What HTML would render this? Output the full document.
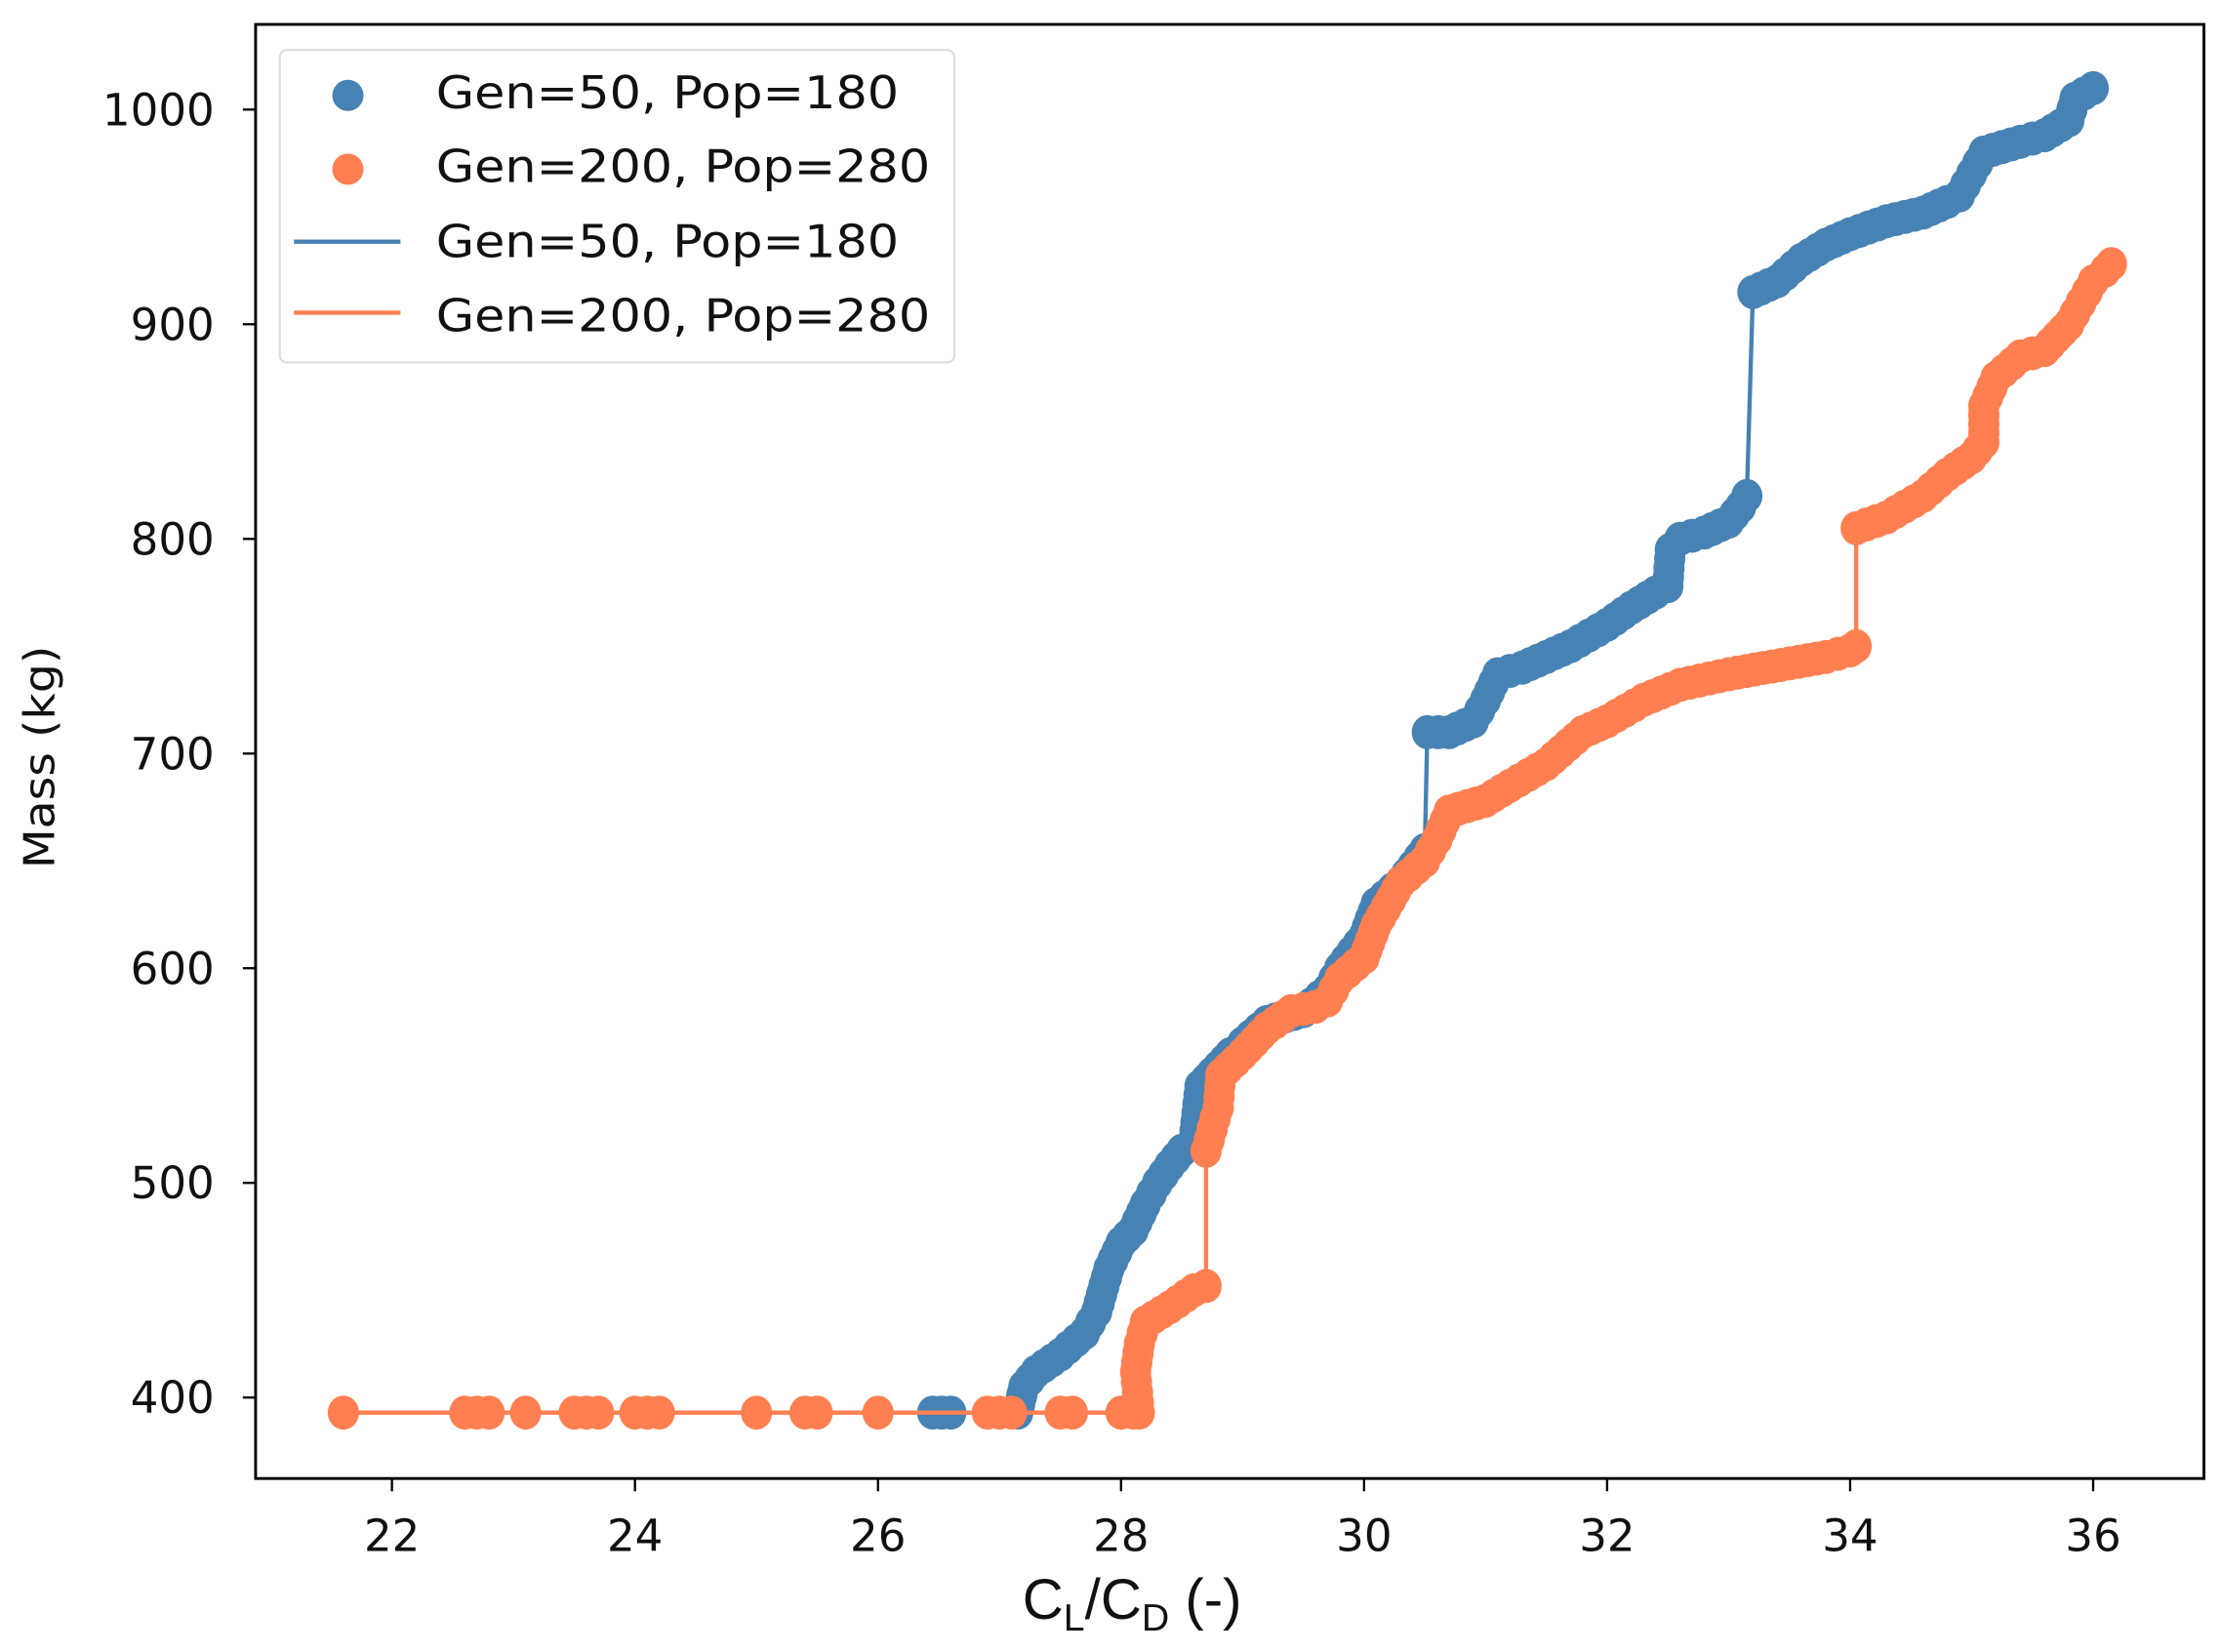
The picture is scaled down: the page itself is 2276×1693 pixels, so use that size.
<!DOCTYPE html>
<html><head><meta charset="utf-8"><style>
html,body{margin:0;padding:0;background:#fff;}
svg{display:block;}
text{font-family:"DejaVu Sans","Liberation Sans",sans-serif;fill:#111;}
</style></head><body>
<svg id="s" width="2276" height="1693" viewBox="0 0 1564 1163" xmlns="http://www.w3.org/2000/svg">
<rect x="0" y="0" width="1564" height="1163" fill="#fff"/>
<g id="plot"></g>
<rect x="180" y="17" width="1372" height="1024" fill="none" stroke="#000" stroke-width="2"/>
<g id="ticks" stroke="#000" stroke-width="1.6"></g>
<g id="labels" font-size="31"></g>
<text x="38" y="533" font-size="30" text-anchor="middle" textLength="157" lengthAdjust="spacingAndGlyphs" transform="rotate(-90 38 533)">Mass (kg)</text>
<text x="720" y="1140" font-size="40" style="font-family:'Liberation Sans',sans-serif">C<tspan font-size="27" dy="8">L</tspan><tspan dy="-8">/C</tspan><tspan font-size="27" dy="8">D</tspan><tspan dy="-8"> (-)</tspan></text>
<rect x="197" y="35" width="475" height="220" rx="5" fill="#fff" fill-opacity="0.85" stroke="#ddd" stroke-width="1.5"/>
<circle cx="245" cy="67" r="11" fill="#4682b4"/>
<circle cx="245" cy="119" r="11" fill="#ff7f50"/>
<line x1="207" y1="170" x2="282" y2="170" stroke="#4682b4" stroke-width="3"/>
<line x1="207" y1="220" x2="282" y2="220" stroke="#ff7f50" stroke-width="3"/>
<g font-size="32">
<text x="307" y="76" textLength="326" lengthAdjust="spacingAndGlyphs">Gen=50, Pop=180</text>
<text x="307" y="128" textLength="348" lengthAdjust="spacingAndGlyphs">Gen=200, Pop=280</text>
<text x="307" y="181" textLength="326" lengthAdjust="spacingAndGlyphs">Gen=50, Pop=180</text>
<text x="307" y="233" textLength="348" lengthAdjust="spacingAndGlyphs">Gen=200, Pop=280</text>
</g>
</svg>
<script>
var NS="http://www.w3.org/2000/svg";
function X(v){return 276+(v-22)*85.57;}
function Y(v){return 984-(v-400)*1.5117;}
var blue=[[26.45,393],[26.6,393],[27.15,393],[27.2,405],[27.3,412],[27.5,420],[27.7,430],[27.8,440],[27.9,460],[28.0,472],[28.1,478],[28.2,490],[28.3,500],[28.4,508],[28.5,515],[28.6,520],[28.65,545],[28.9,560],[29.0,565],[29.2,575],[29.5,580],[29.7,590],[29.8,600],[30.0,615],[30.1,630],[30.3,640],[30.5,655],[30.52,710],[30.7,710],[30.9,715],[31.0,725],[31.1,737],[31.3,740],[31.5,745],[31.7,750],[32.0,760],[32.2,768],[32.4,775],[32.5,778],[32.52,795],[32.6,800],[32.8,803],[33.0,808],[33.1,815],[33.15,820],[33.2,915],[33.4,920],[33.6,930],[33.8,937],[34.0,942],[34.3,948],[34.6,952],[34.8,957],[34.9,960],[35.0,970],[35.1,980],[35.4,985],[35.6,988],[35.8,995],[35.85,1005],[36.0,1010]];
var orange=[[21.6,393],[22.6,393],[22.7,393],[22.8,393],[23.1,393],[23.5,393],[23.6,393],[23.7,393],[24.0,393],[24.2,393],[25.0,393],[25.4,393],[25.5,393],[26.0,393],[26.9,393],[27.0,393],[27.1,393],[27.5,393],[27.6,393],[28.0,393],[28.1,393],[28.15,393],[28.12,412],[28.15,425],[28.2,435],[28.4,442],[28.6,450],[28.7,452],[28.7,515],[28.75,525],[28.8,535],[28.82,550],[29.0,560],[29.2,572],[29.4,580],[29.6,582],[29.7,585],[29.8,595],[30.0,605],[30.1,620],[30.3,640],[30.5,650],[30.6,660],[30.7,673],[31.0,678],[31.2,685],[31.5,695],[31.8,710],[32.0,715],[32.3,725],[32.6,732],[33.0,737],[33.5,742],[33.8,745],[34.0,748],[34.05,750],[34.05,805],[34.3,810],[34.6,820],[34.8,830],[35.0,838],[35.1,845],[35.1,862],[35.2,875],[35.4,885],[35.6,888],[35.8,900],[35.9,910],[36.0,920],[36.1,925],[36.15,928]];
var plot=document.getElementById('plot');
function draw(d,c){
  var p=d.map(function(a){return X(a[0]).toFixed(1)+','+Y(a[1]).toFixed(1);}).join(' ');
  var pl=document.createElementNS(NS,'polyline');
  pl.setAttribute('points',p);pl.setAttribute('fill','none');pl.setAttribute('stroke',c);pl.setAttribute('stroke-width','3');
  plot.appendChild(pl);
  for(var i=0;i<d.length;i++){
    var x0=X(d[i][0]),y0=Y(d[i][1]);
    var pts=[[x0,y0]];
    if(i<d.length-1){
      var x1=X(d[i+1][0]),y1=Y(d[i+1][1]);
      var dist=Math.hypot(x1-x0,y1-y0);
      var jump=Math.abs(d[i+1][1]-d[i][1])>40 || (d[i][1]==393 && d[i+1][1]==393 && dist>20);
      if(!jump){var n=Math.floor(dist/6);for(var k=1;k<n;k++)pts.push([x0+(x1-x0)*k/n,y0+(y1-y0)*k/n]);}
    }
    pts.forEach(function(q){
      var e=document.createElementNS(NS,'ellipse');
      e.setAttribute('cx',q[0].toFixed(1));e.setAttribute('cy',q[1].toFixed(1));
      e.setAttribute('rx','11');e.setAttribute('ry','12');e.setAttribute('fill',c);
      plot.appendChild(e);
    });
  }
}
draw(blue,'#4682b4');
draw(orange,'#ff7f50');
var tk=document.getElementById('ticks'),lb=document.getElementById('labels');
for(var v=22;v<=36;v+=2){
  var x=X(v);
  var l=document.createElementNS(NS,'line');l.setAttribute('x1',x);l.setAttribute('x2',x);l.setAttribute('y1',1041);l.setAttribute('y2',1050);tk.appendChild(l);
  var t=document.createElementNS(NS,'text');t.setAttribute('x',x);t.setAttribute('y',1092);t.setAttribute('text-anchor','middle');t.textContent=v;lb.appendChild(t);
}
for(var v=400;v<=1000;v+=100){
  var y=Y(v);
  var l=document.createElementNS(NS,'line');l.setAttribute('x1',171);l.setAttribute('x2',180);l.setAttribute('y1',y);l.setAttribute('y2',y);tk.appendChild(l);
  var t=document.createElementNS(NS,'text');t.setAttribute('x',151);t.setAttribute('y',y+11);t.setAttribute('text-anchor','end');t.textContent=v;lb.appendChild(t);
}
</script>
</body></html>
